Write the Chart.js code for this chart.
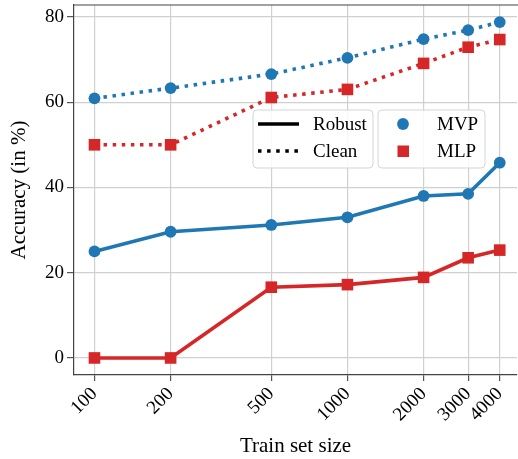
<!DOCTYPE html>
<html>
<head>
<meta charset="utf-8">
<script src="https://cdn.jsdelivr.net/npm/chart.js@4.4.0/dist/chart.umd.min.js"></script>
<style>
  html, body { margin: 0; padding: 0; background: #fff; }
  #wrap { width: 518px; height: 459px; }
</style>
</head>
<body>
<div id="wrap"><canvas id="chart" width="518" height="459"></canvas></div>
<script>
// Datos
const trainSizes = [100, 200, 500, 1000, 2000, 3000, 4000];
const xTicks = [100, 200, 500, 1000, 2000, 3000, 4000];
const yTicks = [0, 20, 40, 60, 80];
const mvpRobust = [25.0, 29.6, 31.2, 33.0, 38.0, 38.5, 45.8];
const mlpRobust = [0.0, 0.0, 16.6, 17.2, 18.9, 23.5, 25.3];
const mvpClean = [60.9, 63.3, 66.6, 70.4, 74.8, 76.9, 78.8];
const mlpClean = [50.0, 50.0, 61.1, 63.0, 69.1, 72.9, 74.7];

const AZUL = '#1f77b4';
const ROJO = '#d62728';
const FUENTE = '"Liberation Serif", "DejaVu Serif", serif';
const PUNTEADO = [3.5, 5.6];

const puntos = (ys) => trainSizes.map((x, i) => ({ x, y: ys[i] }));

function serie(label, ys, color, punteada, estilo) {
  return {
    label,
    data: puntos(ys),
    borderColor: color,
    backgroundColor: color,
    borderWidth: 3.6,
    borderDash: punteada ? PUNTEADO : [],
    borderCapStyle: 'butt',
    pointStyle: estilo,
    pointRadius: estilo === 'rect' ? 8.2 : 5.9,
    pointBorderWidth: 0,
    pointHoverRadius: 0,
    tension: 0,
    clip: false
  };
}

// Leyenda propia (dos cajas, como en matplotlib)
const leyenda = {
  id: 'leyenda',
  afterDatasetsDraw(chart) {
    const ctx = chart.ctx;
    ctx.save();
    const caja = (x, y, w, h) => {
      ctx.beginPath();
      ctx.roundRect(x, y, w, h, 4);
      ctx.fillStyle = 'rgba(255,255,255,0.85)';
      ctx.fill();
      ctx.strokeStyle = '#d5d5d5';
      ctx.lineWidth = 1;
      ctx.stroke();
    };
    caja(253, 110, 120, 58);
    caja(378, 110, 107, 58);

    ctx.font = '19px ' + FUENTE;
    ctx.fillStyle = '#000';
    ctx.textBaseline = 'middle';

    // Robust
    ctx.strokeStyle = '#000';
    ctx.lineWidth = 3.6;
    ctx.setLineDash([]);
    ctx.beginPath(); ctx.moveTo(258, 124); ctx.lineTo(299, 124); ctx.stroke();
    ctx.fillText('Robust', 313, 125);
    // Clean
    ctx.setLineDash(PUNTEADO);
    ctx.beginPath(); ctx.moveTo(258, 151); ctx.lineTo(299, 151); ctx.stroke();
    ctx.setLineDash([]);
    ctx.fillText('Clean', 313, 152);

    // MVP / MLP
    ctx.fillStyle = AZUL;
    ctx.beginPath(); ctx.arc(403, 124, 5.9, 0, Math.PI * 2); ctx.fill();
    ctx.fillStyle = ROJO;
    ctx.fillRect(397.5, 145.5, 11.5, 11.5);
    ctx.fillStyle = '#000';
    ctx.fillText('MVP', 437, 125);
    ctx.fillText('MLP', 437, 152);
    ctx.restore();
  }
};

// Marco superior
const marco = {
  id: 'marco',
  afterDraw(chart) {
    const { ctx, chartArea: a } = chart;
    ctx.save();
    ctx.strokeStyle = '#444';
    ctx.lineWidth = 1.2;
    ctx.beginPath();
    ctx.moveTo(a.left, a.top);
    ctx.lineTo(a.right + 2, a.top);
    ctx.stroke();
    ctx.restore();
  }
};

new Chart(document.getElementById('chart').getContext('2d'), {
  type: 'line',
  data: {
    datasets: [
      serie('MVP Clean', mvpClean, AZUL, true, 'circle'),
      serie('MLP Clean', mlpClean, ROJO, true, 'rect'),
      serie('MVP Robust', mvpRobust, AZUL, false, 'circle'),
      serie('MLP Robust', mlpRobust, ROJO, false, 'rect')
    ]
  },
  options: {
    responsive: false,
    animation: false,
    devicePixelRatio: 1,
    layout: { autoPadding: false, padding: { top: 5, right: 1, left: 0, bottom: 0 } },
    plugins: {
      legend: { display: false },
      tooltip: { enabled: false }
    },
    scales: {
      x: {
        type: 'logarithmic',
        min: 83,
        max: 4680,
        afterBuildTicks: (scale) => { scale.ticks = xTicks.map(v => ({ value: v })); },
        afterFit: (scale) => {
          scale.height = 84;
          scale.paddingLeft = 0;
          scale.paddingRight = 0;
        },
        ticks: {
          autoSkip: false,
          minRotation: 45,
          maxRotation: 45,
          padding: 2,
          color: '#000',
          font: { family: FUENTE, size: 19 },
          callback: (v) => String(v)
        },
        grid: { color: '#d0d0d0', lineWidth: 1.2, tickLength: 6, tickColor: '#555' },
        border: { color: '#444', width: 1.2 },
        title: {
          display: true,
          text: 'Train set size',
          color: '#000',
          font: { family: FUENTE, size: 21 },
          padding: { top: 0, bottom: 0 }
        }
      },
      y: {
        min: -4,
        max: 82.8,
        afterBuildTicks: (scale) => { scale.ticks = yTicks.map(v => ({ value: v })); },
        afterFit: (scale) => {
          scale.width = 74;
          scale.paddingTop = 0;
          scale.paddingBottom = 0;
        },
        ticks: {
          padding: 3,
          color: '#000',
          font: { family: FUENTE, size: 19 }
        },
        grid: { color: '#d0d0d0', lineWidth: 1.2, tickLength: 7, tickColor: '#555' },
        border: { color: '#444', width: 1.2 },
        title: {
          display: true,
          text: 'Accuracy (in %)',
          color: '#000',
          font: { family: FUENTE, size: 21 },
          padding: { top: 7, bottom: 0 }
        }
      }
    }
  },
  plugins: [leyenda, marco]
});
</script>
</body>
</html>
